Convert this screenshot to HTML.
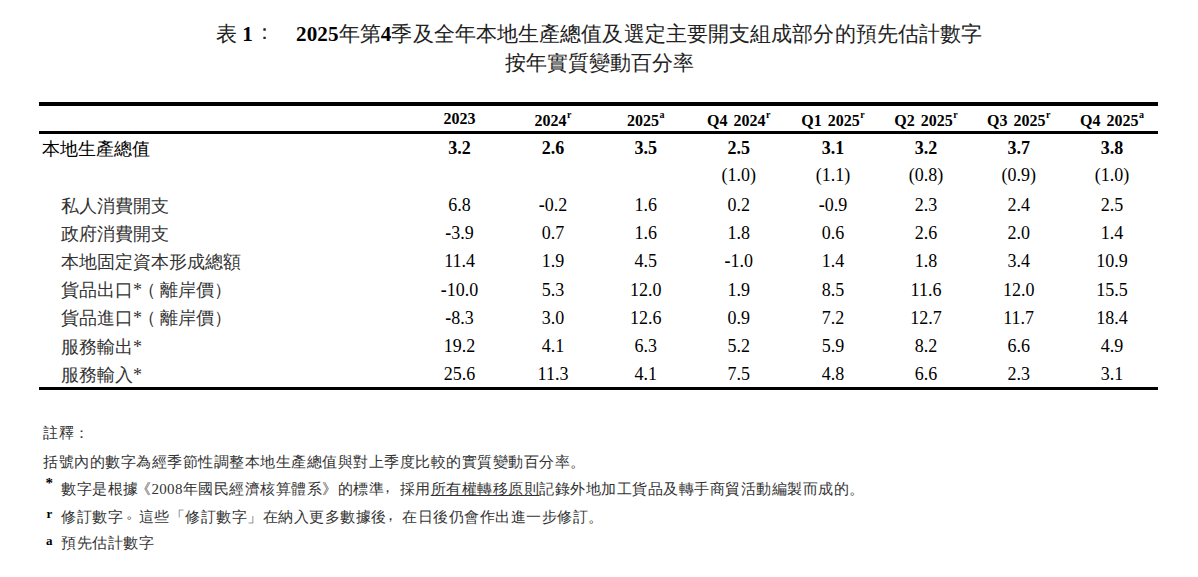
<!DOCTYPE html>
<html lang="zh-Hant">
<head>
<meta charset="utf-8">
<style>
html,body{margin:0;padding:0;background:#fff;}
body{width:1198px;height:577px;position:relative;overflow:hidden;font-family:"Liberation Serif",serif;color:#000;}
.t{position:absolute;white-space:nowrap;line-height:1;color:#222;}
.t .b{color:#000;}
.c{position:absolute;width:120px;text-align:center;white-space:nowrap;line-height:1;font-size:18px;}
.h{font-weight:bold;font-size:16px;word-spacing:2px;}
.b{font-weight:bold;}
.rule{position:absolute;left:39px;width:1119px;background:#000;}
sup{font-size:10px;line-height:0;vertical-align:baseline;position:relative;top:-8px;margin-left:0.5px;}
.lab{position:absolute;white-space:nowrap;line-height:1;font-size:18px;color:#333;}
.lab.gdp{color:#000;}
.note{position:absolute;white-space:nowrap;line-height:1;font-size:15px;letter-spacing:0.5px;color:#333;}
.mk{position:absolute;font-weight:bold;font-size:15px;line-height:1;}
u{text-decoration:underline;}
.mn{font-weight:bold;}
</style>
</head>
<body>
<div class="t" style="left:216px;top:24px;font-size:21.1px;">表<span class="b"> 1</span><span style="position:relative;top:-2px;left:1px">：</span></div>
<div class="t" style="left:296px;top:24px;font-size:21.1px;letter-spacing:0.1px;"><span class="b">2025</span>年第<span class="b">4</span>季及全年本地生產總值及選定主要開支組成部分的預先估計數字</div>
<div class="t" style="left:0;width:1198px;text-align:center;top:53px;font-size:21.1px;">按年實質變動百分率</div>
<div class="rule" style="top:102px;height:4px;"></div>
<div class="rule" style="top:131px;height:3px;"></div>
<div class="rule" style="top:387px;height:3px;"></div>
<div class="c h" style="left:399.6px;top:111.0px;">2023</div>
<div class="c h" style="left:493.0px;top:113.0px;">2024<sup>r</sup></div>
<div class="c h" style="left:585.7px;top:113.0px;">2025<sup>a</sup></div>
<div class="c h" style="left:678.7px;top:113.0px;">Q4 2024<sup>r</sup></div>
<div class="c h" style="left:773.0px;top:113.0px;">Q1 2025<sup>r</sup></div>
<div class="c h" style="left:866.0px;top:113.0px;">Q2 2025<sup>r</sup></div>
<div class="c h" style="left:958.7px;top:113.0px;">Q3 2025<sup>r</sup></div>
<div class="c h" style="left:1052.0px;top:113.0px;">Q4 2025<sup>a</sup></div>
<div class="lab gdp" style="left:42px;top:140.1px;">本地生產總值</div>
<div class="c b" style="left:399.6px;top:138.6px;">3.2</div>
<div class="c b" style="left:493.0px;top:138.6px;">2.6</div>
<div class="c b" style="left:585.7px;top:138.6px;">3.5</div>
<div class="c b" style="left:678.7px;top:138.6px;">2.5</div>
<div class="c b" style="left:773.0px;top:138.6px;">3.1</div>
<div class="c b" style="left:866.0px;top:138.6px;">3.2</div>
<div class="c b" style="left:958.7px;top:138.6px;">3.7</div>
<div class="c b" style="left:1052.0px;top:138.6px;">3.8</div>
<div class="c" style="left:678.7px;top:166.3px;">(1.0)</div>
<div class="c" style="left:773.0px;top:166.3px;">(1.1)</div>
<div class="c" style="left:866.0px;top:166.3px;">(0.8)</div>
<div class="c" style="left:958.7px;top:166.3px;">(0.9)</div>
<div class="c" style="left:1052.0px;top:166.3px;">(1.0)</div>
<div class="lab" style="left:61px;top:196.5px;">私人消費開支</div>
<div class="c" style="left:399.6px;top:196.0px;">6.8</div>
<div class="c" style="left:493.0px;top:196.0px;"><b class="mn">-</b>0.2</div>
<div class="c" style="left:585.7px;top:196.0px;">1.6</div>
<div class="c" style="left:678.7px;top:196.0px;">0.2</div>
<div class="c" style="left:773.0px;top:196.0px;"><b class="mn">-</b>0.9</div>
<div class="c" style="left:866.0px;top:196.0px;">2.3</div>
<div class="c" style="left:958.7px;top:196.0px;">2.4</div>
<div class="c" style="left:1052.0px;top:196.0px;">2.5</div>
<div class="lab" style="left:61px;top:224.7px;">政府消費開支</div>
<div class="c" style="left:399.6px;top:224.2px;"><b class="mn">-</b>3.9</div>
<div class="c" style="left:493.0px;top:224.2px;">0.7</div>
<div class="c" style="left:585.7px;top:224.2px;">1.6</div>
<div class="c" style="left:678.7px;top:224.2px;">1.8</div>
<div class="c" style="left:773.0px;top:224.2px;">0.6</div>
<div class="c" style="left:866.0px;top:224.2px;">2.6</div>
<div class="c" style="left:958.7px;top:224.2px;">2.0</div>
<div class="c" style="left:1052.0px;top:224.2px;">1.4</div>
<div class="lab" style="left:61px;top:252.9px;">本地固定資本形成總額</div>
<div class="c" style="left:399.6px;top:252.4px;">11.4</div>
<div class="c" style="left:493.0px;top:252.4px;">1.9</div>
<div class="c" style="left:585.7px;top:252.4px;">4.5</div>
<div class="c" style="left:678.7px;top:252.4px;"><b class="mn">-</b>1.0</div>
<div class="c" style="left:773.0px;top:252.4px;">1.4</div>
<div class="c" style="left:866.0px;top:252.4px;">1.8</div>
<div class="c" style="left:958.7px;top:252.4px;">3.4</div>
<div class="c" style="left:1052.0px;top:252.4px;">10.9</div>
<div class="lab" style="left:61px;top:281.1px;">貨品出口*<span style="position:relative;left:-4px">（</span>離岸價）</div>
<div class="c" style="left:399.6px;top:280.6px;"><b class="mn">-</b>10.0</div>
<div class="c" style="left:493.0px;top:280.6px;">5.3</div>
<div class="c" style="left:585.7px;top:280.6px;">12.0</div>
<div class="c" style="left:678.7px;top:280.6px;">1.9</div>
<div class="c" style="left:773.0px;top:280.6px;">8.5</div>
<div class="c" style="left:866.0px;top:280.6px;">11.6</div>
<div class="c" style="left:958.7px;top:280.6px;">12.0</div>
<div class="c" style="left:1052.0px;top:280.6px;">15.5</div>
<div class="lab" style="left:61px;top:309.3px;">貨品進口*<span style="position:relative;left:-4px">（</span>離岸價）</div>
<div class="c" style="left:399.6px;top:308.8px;"><b class="mn">-</b>8.3</div>
<div class="c" style="left:493.0px;top:308.8px;">3.0</div>
<div class="c" style="left:585.7px;top:308.8px;">12.6</div>
<div class="c" style="left:678.7px;top:308.8px;">0.9</div>
<div class="c" style="left:773.0px;top:308.8px;">7.2</div>
<div class="c" style="left:866.0px;top:308.8px;">12.7</div>
<div class="c" style="left:958.7px;top:308.8px;">11.7</div>
<div class="c" style="left:1052.0px;top:308.8px;">18.4</div>
<div class="lab" style="left:61px;top:337.5px;">服務輸出*</div>
<div class="c" style="left:399.6px;top:337.0px;">19.2</div>
<div class="c" style="left:493.0px;top:337.0px;">4.1</div>
<div class="c" style="left:585.7px;top:337.0px;">6.3</div>
<div class="c" style="left:678.7px;top:337.0px;">5.2</div>
<div class="c" style="left:773.0px;top:337.0px;">5.9</div>
<div class="c" style="left:866.0px;top:337.0px;">8.2</div>
<div class="c" style="left:958.7px;top:337.0px;">6.6</div>
<div class="c" style="left:1052.0px;top:337.0px;">4.9</div>
<div class="lab" style="left:61px;top:365.7px;">服務輸入*</div>
<div class="c" style="left:399.6px;top:365.2px;">25.6</div>
<div class="c" style="left:493.0px;top:365.2px;">11.3</div>
<div class="c" style="left:585.7px;top:365.2px;">4.1</div>
<div class="c" style="left:678.7px;top:365.2px;">7.5</div>
<div class="c" style="left:773.0px;top:365.2px;">4.8</div>
<div class="c" style="left:866.0px;top:365.2px;">6.6</div>
<div class="c" style="left:958.7px;top:365.2px;">2.3</div>
<div class="c" style="left:1052.0px;top:365.2px;">3.1</div>
<div class="note" style="left:43px;top:426px;">註釋：</div>
<div class="note" style="left:43px;top:454.5px;">括號內的數字為經季節性調整本地生產總值與對上季度比較的實質變動百分率。</div>
<div class="mk" style="left:45.5px;top:475.5px;font-size:15px;">*</div>
<div class="note" style="left:61px;top:482px;">數字是根據<span style="margin-left:-2.5px">《</span><span style="letter-spacing:0.3px">2008</span>年國民經濟核算體系》的標準<span style="position:relative;left:-4px;top:-2px">，</span>採用<u>所有權轉移原則</u>記錄外地加工貨品及轉手商貿活動編製而成的。</div>
<div class="mk" style="left:46.5px;top:506.5px;font-size:13px;">r</div>
<div class="note" style="left:61px;top:510px;">修訂數字<span style="position:relative;left:3px;top:-4px">。</span>這些「修訂數字」在納入更多數據後<span style="position:relative;left:-4px;top:-2px">，</span>在日後仍會作出進一步修訂。</div>
<div class="mk" style="left:46px;top:534px;font-size:13px;">a</div>
<div class="note" style="left:61px;top:536px;">預先估計數字</div>
</body>
</html>
